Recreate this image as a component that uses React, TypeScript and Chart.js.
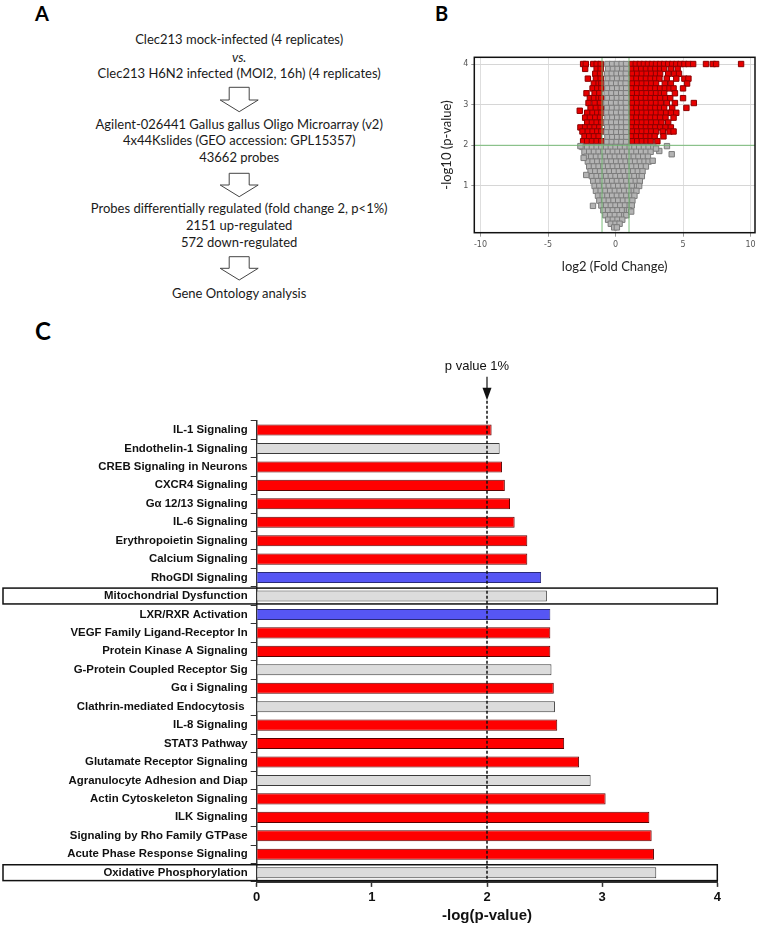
import React, { useEffect, useRef } from "react";
import { Chart, registerables } from "chart.js";

Chart.register(...registerables);

// ---------------- Panel C data ----------------
const pathways: string[] = [
  "IL-1 Signaling",
  "Endothelin-1 Signaling",
  "CREB Signaling in Neurons",
  "CXCR4 Signaling",
  "Gα 12/13 Signaling",
  "IL-6 Signaling",
  "Erythropoietin Signaling",
  "Calcium Signaling",
  "RhoGDI Signaling",
  "Mitochondrial Dysfunction",
  "LXR/RXR Activation",
  "VEGF Family Ligand-Receptor In",
  "Protein Kinase A Signaling",
  "G-Protein Coupled Receptor Sig",
  "Gα i Signaling",
  "Clathrin-mediated Endocytosis ",
  "IL-8 Signaling",
  "STAT3 Pathway",
  "Glutamate Receptor Signaling",
  "Agranulocyte Adhesion and Diap",
  "Actin Cytoskeleton Signaling",
  "ILK Signaling",
  "Signaling by Rho Family GTPase",
  "Acute Phase Response Signaling",
  "Oxidative Phosphorylation",
];

const negLogP: number[] = [
  2.04, 2.11, 2.13, 2.155, 2.2, 2.24, 2.35, 2.35, 2.47, 2.52, 2.55, 2.55, 2.55,
  2.56, 2.58, 2.59, 2.61, 2.67, 2.8, 2.9, 3.03, 3.41, 3.43, 3.45, 3.47,
];

// u = up (red), n = no direction (grey), d = down (blue)
const pathwayKind: string[] = [
  "u", "n", "u", "u", "u", "u", "u", "u", "d", "n", "d", "u", "u",
  "n", "u", "n", "u", "u", "u", "n", "u", "u", "u", "u", "n",
];

const boxedPathways: string[] = ["Mitochondrial Dysfunction", "Oxidative Phosphorylation"];
const pValueThreshold = 2;
const xTicksC: number[] = [0, 1, 2, 3, 4];

// ---------------- Panel B data (volcano) ----------------
const xTicksB: number[] = [-10, -5, 0, 5, 10];
const yTicksB: number[] = [1, 2, 3, 4];
const foldThreshold = 1;
const pThresholdB = 2;

// grey points, rows: [-log10 p, [log2 FC ...]]
const greyRows: [number, number[]][] = [
  [4.0, [-0.6, -0.25, 0.1, 0.45, 0.78]],
  [3.88, [-0.55, -0.2, 0.15, 0.5, 0.8]],
  [3.76, [-0.62, -0.28, 0.08, 0.42, 0.76]],
  [3.64, [-0.58, -0.22, 0.12, 0.48, 0.8]],
  [3.52, [-0.65, -0.3, 0.05, 0.4, 0.75]],
  [3.4, [-0.6, -0.24, 0.12, 0.47, 0.79]],
  [3.28, [-0.66, -0.3, 0.06, 0.42, 0.77]],
  [3.16, [-0.6, -0.25, 0.1, 0.45, 0.8]],
  [3.04, [-0.68, -0.32, 0.04, 0.4, 0.76]],
  [2.92, [-0.62, -0.26, 0.1, 0.46, 0.8]],
  [2.8, [-0.66, -0.3, 0.05, 0.41, 0.77]],
  [2.68, [-0.6, -0.24, 0.12, 0.47, 0.8]],
  [2.56, [-0.67, -0.31, 0.05, 0.42, 0.78]],
  [2.44, [-0.62, -0.26, 0.1, 0.45, 0.8]],
  [2.32, [-0.66, -0.3, 0.06, 0.42, 0.77]],
  [2.2, [-0.6, -0.24, 0.12, 0.47, 0.8]],
  [2.08, [-0.64, -0.28, 0.08, 0.44, 0.78]],
  [1.96, [-2.45, -2.1, -1.75, -1.4, -1.05, -0.7, -0.35, 0, 0.35, 0.7, 1.05, 1.4, 1.75, 2.1, 2.45, 2.8]],
  [1.84, [-2.3, -1.95, -1.6, -1.25, -0.9, -0.55, -0.2, 0.15, 0.5, 0.85, 1.2, 1.55, 1.9, 2.25, 2.6]],
  [1.72, [-2.15, -1.8, -1.45, -1.1, -0.75, -0.4, -0.05, 0.3, 0.65, 1.0, 1.35, 1.7, 2.05, 2.4]],
  [1.6, [-2.05, -1.7, -1.35, -1.0, -0.65, -0.3, 0.05, 0.4, 0.75, 1.1, 1.45, 1.8, 2.15, 2.45]],
  [1.48, [-1.95, -1.6, -1.25, -0.9, -0.55, -0.2, 0.15, 0.5, 0.85, 1.2, 1.55, 1.9, 2.25]],
  [1.36, [-1.85, -1.5, -1.15, -0.8, -0.45, -0.1, 0.25, 0.6, 0.95, 1.3, 1.65, 2.0]],
  [1.24, [-1.75, -1.4, -1.05, -0.7, -0.35, 0, 0.35, 0.7, 1.05, 1.4, 1.75, 1.95]],
  [1.12, [-1.65, -1.3, -0.95, -0.6, -0.25, 0.1, 0.45, 0.8, 1.15, 1.5, 1.8]],
  [1.0, [-1.55, -1.2, -0.85, -0.5, -0.15, 0.2, 0.55, 0.9, 1.25, 1.6, 1.75]],
  [0.88, [-1.45, -1.1, -0.75, -0.4, -0.05, 0.3, 0.65, 1.0, 1.35, 1.55]],
  [0.76, [-1.3, -0.95, -0.6, -0.25, 0.1, 0.45, 0.8, 1.15, 1.4]],
  [0.64, [-1.2, -0.85, -0.5, -0.15, 0.2, 0.55, 0.9, 1.25]],
  [0.52, [-1.05, -0.7, -0.35, 0, 0.35, 0.7, 1.05, 1.2]],
  [0.4, [-0.9, -0.55, -0.2, 0.15, 0.5, 0.85, 1.0]],
  [0.28, [-0.75, -0.4, -0.05, 0.3, 0.65, 0.8]],
  [0.17, [-0.55, -0.2, 0.15, 0.5]],
  [0.07, [-0.35, 0, 0.3]],
  [-0.02, [-0.1, 0.1]],
];
const greyOutliers: [number, number][] = [
  [3.81, 1.98], [4.16, 1.78], [3.24, 1.86], [3.0, 1.92], [2.75, 1.62],
  [-2.36, 1.69], [-2.17, 1.27], [-1.67, 0.51], [1.16, 0.37], [-2.6, 1.98],
];

// red points (significant), rows: [-log10 p, [log2 FC ...]]
const redRows: [number, number[]][] = [
  [4.0, [-2.4, -2.2, -1.65, -1.4, -1.1, 1.2, 1.5, 1.8, 2.1, 2.4, 2.7, 3.0, 3.3, 3.6, 3.9, 4.2, 4.5, 4.8, 5.1, 5.4, 5.75, 6.7, 7.2, 7.45, 9.3]],
  [3.88, [-2.25, -1.4, -1.1, 1.2, 1.55, 1.9, 2.25, 2.6, 2.95, 3.3, 3.6, 4.1, 4.6]],
  [3.76, [-1.5, -1.15, 1.25, 1.6, 1.95, 2.3, 2.65, 3.0, 3.3, 3.9, 4.35, 4.7]],
  [3.64, [-2.05, -1.45, -1.1, 1.2, 1.55, 1.9, 2.25, 2.6, 2.95, 3.25, 3.8, 4.5, 5.1, 5.4]],
  [3.52, [-1.6, -1.25, -1.05, 1.25, 1.6, 1.95, 2.3, 2.65, 3.0, 3.65, 4.1, 5.3]],
  [3.4, [-1.7, -1.35, -1.05, 1.2, 1.55, 1.9, 2.25, 2.6, 2.95, 3.3, 3.65, 4.0, 4.3, 5.0]],
  [3.28, [-2.15, -1.55, -1.2, 1.25, 1.6, 1.95, 2.3, 2.65, 3.0, 3.35, 3.6, 4.4]],
  [3.16, [-1.9, -1.6, -1.25, -1.05, 1.2, 1.55, 1.9, 2.25, 2.6, 2.95, 3.3, 3.7, 4.05, 5.0]],
  [3.04, [-2.0, -1.55, -1.15, 1.25, 1.6, 1.95, 2.3, 2.65, 3.0, 3.35, 3.8, 4.4, 5.8]],
  [2.92, [-1.85, -1.45, -1.1, 1.2, 1.55, 1.9, 2.25, 2.6, 2.95, 3.3, 3.6, 4.2, 5.25]],
  [2.85, [-2.65]],
  [2.8, [-2.1, -1.7, -1.35, -1.05, 1.25, 1.6, 1.95, 2.3, 2.65, 3.0, 3.35, 3.75, 4.1, 4.5]],
  [2.68, [-2.25, -1.9, -1.5, -1.15, 1.2, 1.55, 1.9, 2.25, 2.6, 2.95, 3.3, 3.7, 4.3]],
  [2.56, [-2.1, -1.75, -1.4, -1.05, 1.25, 1.6, 1.95, 2.3, 2.65, 3.0, 3.4, 3.9]],
  [2.44, [-2.6, -2.25, -1.9, -1.55, -1.2, 1.2, 1.55, 1.9, 2.25, 2.6, 2.95, 3.3, 3.7, 4.1]],
  [2.34, [-2.45, -2.05, -1.7, -1.35, -1.05, 1.25, 1.6, 1.95, 2.3, 2.65, 3.0, 3.5, 4.0, 4.3]],
  [2.22, [-2.3, -1.95, -1.6, -1.25, 1.2, 1.55, 1.9, 2.25, 2.6, 2.9, 3.55]],
  [2.1, [-2.4, -2.1, -1.75, -1.4, -1.05, 1.25, 1.6, 1.95, 2.3, 2.6, 3.1]],
];

// ---------------- Panel A text ----------------
const flowBlocks: string[][] = [
  ["Clec213 mock-infected (4 replicates)", "vs.", "Clec213 H6N2 infected (MOI2, 16h) (4 replicates)"],
  ["Agilent-026441 Gallus gallus Oligo Microarray (v2)", "4x44Kslides (GEO accession: GPL15357)", "43662 probes"],
  ["Probes differentially regulated (fold change 2, p<1%)", "2151 up-regulated", "572 down-regulated"],
  ["Gene Ontology analysis"],
];

const BAR_FILL: Record<string, string> = { u: "#ff0000", n: "#dcdcdc", d: "#5656f4" };
const BAR_BORDER: Record<string, string> = { u: "#5a0000", n: "#3a3a3a", d: "#2a2a7a" };

const rowsToPoints = (rows: [number, number[]][]) =>
  rows.flatMap(([y, xs]) => xs.map((x) => ({ x, y })));

function PathwayChart() {
  const ref = useRef<HTMLCanvasElement | null>(null);
  useEffect(() => {
    if (!ref.current) return;
    const fam = "'Liberation Sans', Arial, Helvetica, sans-serif";
    const pvalPlugin = {
      id: "pval",
      afterDatasetsDraw(chart: any) {
        const { ctx, chartArea, scales } = chart;
        const px = scales.x.getPixelForValue(pValueThreshold);
        const top = chartArea.top;
        ctx.save();
        ctx.strokeStyle = "#111";
        ctx.lineWidth = 1.5;
        ctx.setLineDash([3, 2]);
        ctx.beginPath();
        ctx.moveTo(px, top - 20);
        ctx.lineTo(px, chartArea.bottom);
        ctx.stroke();
        ctx.setLineDash([]);
        ctx.lineWidth = 1.2;
        ctx.beginPath();
        ctx.moveTo(px, top - 44);
        ctx.lineTo(px, top - 32);
        ctx.stroke();
        ctx.fillStyle = "#111";
        ctx.beginPath();
        ctx.moveTo(px - 4.5, top - 33);
        ctx.lineTo(px + 4.5, top - 33);
        ctx.lineTo(px, top - 20.5);
        ctx.closePath();
        ctx.fill();
        ctx.font = "13px 'Liberation Sans', Arial, sans-serif";
        ctx.textAlign = "center";
        ctx.textBaseline = "middle";
        ctx.fillText("p value 1%", px - 10, top - 54);
        ctx.restore();
      },
    };
    const boxPlugin = {
      id: "boxes",
      afterDatasetsDraw(chart: any) {
        const { ctx, scales } = chart;
        const y = scales.y;
        const x = scales.x;
        const half = (y.getPixelForValue(1) - y.getPixelForValue(0)) * 0.43;
        ctx.save();
        ctx.strokeStyle = "#111";
        ctx.lineWidth = 1.5;
        boxedPathways.forEach((name) => {
          const i = pathways.indexOf(name);
          const cy = y.getPixelForValue(i);
          const right = x.getPixelForValue(4);
          ctx.strokeRect(3, cy - half, right - 3, 2 * half);
        });
        ctx.restore();
      },
    };
    const chart = new Chart(ref.current, {
      type: "bar",
      data: {
        labels: pathways,
        datasets: [
          {
            data: negLogP,
            backgroundColor: pathwayKind.map((k) => BAR_FILL[k]),
            borderColor: pathwayKind.map((k) => BAR_BORDER[k]),
            borderWidth: 1,
            barPercentage: 0.6,
            categoryPercentage: 1,
          },
        ],
      },
      options: {
        indexAxis: "y",
        animation: false,
        responsive: false,
        maintainAspectRatio: false,
        layout: { padding: { top: 70.8, right: 42.7, bottom: 0, left: 0 } },
        plugins: { legend: { display: false }, tooltip: { enabled: false } },
        scales: {
          x: {
            min: 0,
            max: 4,
            afterBuildTicks: (s: any) => {
              s.ticks = xTicksC.map((v) => ({ value: v }));
            },
            ticks: { color: "#111", font: { family: fam, size: 13, weight: "bold" }, padding: 3 },
            grid: { drawOnChartArea: false, drawTicks: true, tickLength: 5, tickColor: "#333", tickWidth: 1.5 },
            border: { color: "#333", width: 2 },
            title: {
              display: true,
              text: "-log(p-value)",
              color: "#111",
              font: { family: fam, size: 15, weight: "bold" },
              padding: { top: 0, bottom: 2 },
            },
            afterFit: (s: any) => {
              s.height = 45.1;
            },
          },
          y: {
            ticks: { color: "#111", font: { family: fam, size: 11.4, weight: "bold" }, padding: 3, autoSkip: false },
            grid: { drawOnChartArea: false, drawTicks: true, tickLength: 6, tickColor: "#333", tickWidth: 1 },
            border: { color: "#333", width: 1.5 },
            afterFit: (s: any) => {
              s.width = 256.7;
            },
          },
        },
      } as any,
      plugins: [pvalPlugin, boxPlugin],
    });
    return () => chart.destroy();
  }, []);
  return (
    <canvas
      ref={ref}
      width={760}
      height={577}
      style={{ position: "absolute", left: 0, top: 350, width: 760, height: 577 }}
    />
  );
}

function VolcanoChart() {
  const ref = useRef<HTMLCanvasElement | null>(null);
  useEffect(() => {
    if (!ref.current) return;
    const tickFam = "'DejaVu Sans', sans-serif";
    const titleFam = "Lato, 'Open Sans', sans-serif";
    const framePlugin = {
      id: "frame",
      afterDatasetsDraw(chart: any) {
        const { ctx, chartArea, scales } = chart;
        ctx.save();
        ctx.strokeStyle = "rgba(110,185,110,0.9)";
        ctx.lineWidth = 1;
        [-foldThreshold, foldThreshold].forEach((v) => {
          const px = scales.x.getPixelForValue(v);
          ctx.beginPath();
          ctx.moveTo(px, chartArea.top);
          ctx.lineTo(px, chartArea.bottom);
          ctx.stroke();
        });
        const py = scales.y.getPixelForValue(pThresholdB);
        ctx.beginPath();
        ctx.moveTo(chartArea.left, py);
        ctx.lineTo(chartArea.right, py);
        ctx.stroke();
        ctx.strokeStyle = "#111";
        ctx.lineWidth = 1.5;
        ctx.strokeRect(chartArea.left, chartArea.top, chartArea.right - chartArea.left, chartArea.bottom - chartArea.top);
        ctx.restore();
      },
    };
    const chart = new Chart(ref.current, {
      type: "scatter",
      data: {
        datasets: [
          {
            data: [...rowsToPoints(greyRows), ...greyOutliers.map(([x, y]) => ({ x, y }))],
            pointStyle: "rect",
            pointRadius: 3.8,
            backgroundColor: "#b4b4b4",
            borderColor: "#7c7c7c",
            borderWidth: 1,
          },
          {
            data: rowsToPoints(redRows),
            pointStyle: "rect",
            pointRadius: 3.8,
            backgroundColor: "#e80000",
            borderColor: "#8a0000",
            borderWidth: 1,
          },
        ],
      },
      options: {
        animation: false,
        responsive: false,
        maintainAspectRatio: false,
        layout: { padding: { top: 17.3, right: 4, bottom: 0, left: 0 } },
        plugins: { legend: { display: false }, tooltip: { enabled: false } },
        scales: {
          x: {
            type: "linear",
            min: -10.46,
            max: 10.33,
            afterBuildTicks: (s: any) => {
              s.ticks = xTicksB.map((v) => ({ value: v }));
            },
            ticks: { color: "#555", font: { family: tickFam, size: 8 }, padding: 3 },
            grid: { color: "#dedede", lineWidth: 1, tickLength: 4, tickColor: "#999" },
            border: { display: false },
            title: {
              display: true,
              text: "log2 (Fold Change)",
              color: "#222",
              font: { family: titleFam, size: 13 },
              padding: { top: 0, bottom: 15.5 },
            },
            afterFit: (s: any) => {
              s.height = 57.3;
            },
          },
          y: {
            type: "linear",
            min: -0.15,
            max: 4.165,
            afterBuildTicks: (s: any) => {
              s.ticks = yTicksB.map((v) => ({ value: v }));
            },
            ticks: { color: "#555", font: { family: tickFam, size: 8 }, padding: 3 },
            grid: { color: "#d6d6d6", lineWidth: 1, tickLength: 3, tickColor: "#999" },
            border: { display: false },
            title: {
              display: true,
              text: "-log10 (p-value)",
              color: "#222",
              font: { family: titleFam, size: 13 },
              padding: { top: 38.9, bottom: 0 },
            },
            afterFit: (s: any) => {
              s.width = 74.3;
            },
          },
        },
      } as any,
      plugins: [framePlugin],
    });
    return () => chart.destroy();
  }, []);
  return (
    <canvas
      ref={ref}
      width={360}
      height={250}
      style={{ position: "absolute", left: 400, top: 40, width: 360, height: 250 }}
    />
  );
}

function FlowPanel() {
  const lineCenters: number[][] = [
    [39.3, 56.7, 72.7],
    [124, 140, 156.7],
    [208.3, 225, 241.7],
    [293.3],
  ];
  const arrows: [number, number, number][] = [
    [87.3, 100, 111.7],
    [173.3, 185, 196.7],
    [256.7, 268.3, 280],
  ];
  const cx = 239.2;
  return (
    <>
      {flowBlocks.map((block, bi) =>
        block.map((line, li) => (
          <div
            key={`${bi}-${li}`}
            style={{
              position: "absolute",
              left: 0,
              width: 2 * cx,
              top: lineCenters[bi][li] - 9,
              height: 18,
              lineHeight: "18px",
              textAlign: "center",
              fontFamily: "Lato, 'Open Sans', sans-serif",
              fontSize: 13,
              fontStyle: line === "vs." ? "italic" : "normal",
              color: "#1a1a1a",
              whiteSpace: "nowrap",
            }}
          >
            {line}
          </div>
        ))
      )}
      <svg
        width={480}
        height={300}
        style={{ position: "absolute", left: 0, top: 0 }}
      >
        {arrows.map(([t, m, b], i) => (
          <polygon
            key={i}
            points={`${cx - 10},${t} ${cx + 10},${t} ${cx + 10},${m} ${cx + 19},${m} ${cx},${b} ${cx - 19},${m} ${cx - 10},${m}`}
            fill="#fff"
            stroke="#444"
            strokeWidth={1}
          />
        ))}
      </svg>
    </>
  );
}

const letterStyle = (left: number, top: number, size: number): React.CSSProperties => ({
  position: "absolute",
  left,
  top,
  fontFamily: "Lato, 'Open Sans', sans-serif",
  fontWeight: "bold",
  fontSize: size,
  lineHeight: `${size}px`,
  color: "#000",
});

export default function App() {
  return (
    <div
      style={{
        position: "absolute",
        left: 0,
        top: 0,
        width: 760,
        height: 927,
        background: "#fff",
        overflow: "hidden",
      }}
    >
      <div style={letterStyle(35, 3, 20)}>A</div>
      <div style={letterStyle(435, 3, 20)}>B</div>
      <div style={letterStyle(35, 319, 24)}>C</div>
      <FlowPanel />
      <VolcanoChart />
      <PathwayChart />
    </div>
  );
}
